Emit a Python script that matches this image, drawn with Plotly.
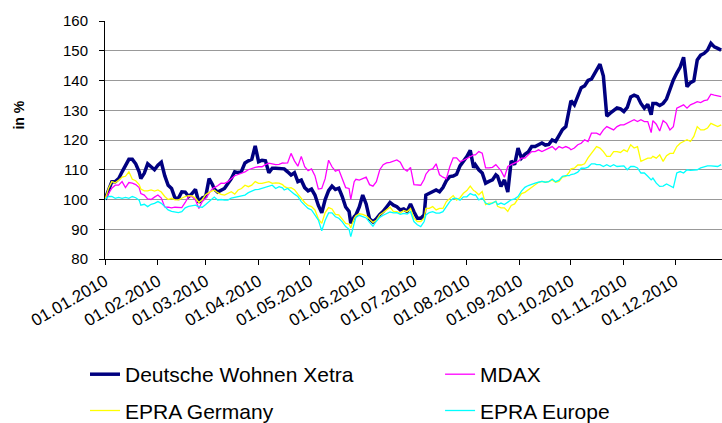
import pandas as pd
import plotly.graph_objects as go

# observation days, counted from 01.01.2010
days = [0, 2, 4, 6, 8, 10, 12, 14, 16, 18, 20, 21, 23, 25, 27, 29, 31, 33, 35, 37, 39, 41, 43, 45, 47, 49, 51, 53, 55, 57, 59, 61, 63, 64, 66, 68,
        70, 72, 74, 76, 78, 80, 82, 84, 86, 88, 90, 92, 94, 96, 98, 100, 102, 104, 105, 107, 109, 111, 113, 115, 117, 119, 121, 123, 125, 127, 129, 131, 133, 135, 137, 139, 141, 143,
        144, 146, 147, 149, 151, 153, 155, 157, 159, 161, 163, 165, 167, 169, 171, 173, 175, 177, 179, 181, 183, 185, 187, 188, 190, 192, 194, 196, 198, 200, 202, 204, 206, 208, 210, 212, 214, 216,
        217, 219, 221, 223, 225, 227, 229, 230, 232, 234, 236, 238, 240, 242, 244, 246, 248, 250, 252, 254, 256, 258, 260, 262, 264, 266, 268, 270, 272, 273, 275, 277, 279, 281, 283, 285, 287,
        288, 290, 292, 294, 296, 298, 300, 302, 304, 306, 308, 310, 312, 314, 316, 318, 320, 321, 323, 325, 327, 329, 331, 333, 335, 337, 339, 341, 343, 345, 347, 349, 351, 353, 355, 357, 359, 361]

deutsche_wohnen = [100, 103, 106, 106, 107, 109.3, 111.5, 113.5, 113.5, 112, 109.3, 107, 108.8, 112, 111, 110, 111.5, 112.5, 108, 104.8, 103.7, 100.5, 100.4, 102.6, 102.5, 101, 102, 103.4, 99, 100.5, 101, 107, 105, 103.5, 102.5, 103,
                   103.7, 105.4, 107, 109.3, 109, 109.5, 112.3, 113, 113.5, 118, 112.7, 113.2, 113, 109, 110.5, 110.5, 110.5, 110.5, 110.3, 109.3, 108.2, 109, 106, 106.5, 104, 102.9, 103.5, 101.5, 98, 95.5, 100, 103, 104.5, 103.4, 103.8, 101, 97.5, 96,
                   92, 94.2, 94.8, 97.5, 101.5, 98.5, 93.5, 92.5, 93.5, 95, 96, 97.5, 99, 98.1, 97.6, 96.5, 96.8, 96, 98.5, 95.9, 93.7, 93.7, 94.8, 101.5, 102, 102.7, 103.2, 102.6, 104, 106.3, 107.7, 107.9, 108.5, 111.3, 112.7, 114.4, 116.5, 110.7,
                   111.7, 110, 108.9, 105.5, 106.1, 106.6, 108.3, 107.8, 104.4, 106.6, 102.5, 113, 111.7, 117.3, 113.9, 115.2, 116, 117.8, 117.8, 118.4, 119, 118.3, 118.5, 120, 119.5, 121.5, 123.5, 124.5, 130.7, 133.2, 131.8, 134.5, 137.6, 138.2, 140, 140.5, 142.4,
                   143.5, 145.5, 141.5, 128, 129, 130.1, 130.8, 130.5, 129.6, 131, 134.5, 135.1, 134.6, 132.3, 130.7, 132, 128.5, 132.3, 132.3, 131.6, 132.3, 133.8, 137.4, 140.2, 142.5, 144.5, 147.8, 137.9, 139.3, 139.9, 146.9, 148.5, 149.1, 150.2, 152.5, 151.3, 150.8, 150.2]

mdax = [100, 102, 103.8, 104.8, 104.8, 106, 104, 105.7, 105.5, 105, 104, 102, 101.5, 100.2, 100, 100.8, 101.5, 100.5, 97.5, 97.4, 97.2, 97.4, 97.3, 97.3, 99, 101, 101, 99.8, 97, 99.3, 100.4, 102, 103.7, 104, 104.6, 105.5,
        105.4, 106, 107, 108, 108.4, 108.8, 109.3, 110, 110.5, 110.8, 111, 111, 111.7, 112.2, 112, 111.7, 111.8, 112.3, 112.2, 112.3, 115.5, 113, 111.2, 114.5, 111, 109.7, 110.3, 108, 103.5, 103.7, 107, 113.2, 111, 109.5, 110, 107, 104, 103.7,
        100, 106, 106.8, 106.5, 107, 107.5, 105, 104.5, 106, 110, 111.7, 112.3, 112.5, 113, 113.3, 112.5, 110.3, 109.5, 110.8, 105, 104.8, 104.8, 106.8, 108.5, 110, 110.3, 112, 108.3, 107.5, 107, 111, 114, 114, 112.7, 113.2, 113.8, 114.5, 115,
        115, 116.1, 115.6, 110.6, 110.6, 110.8, 111.7, 111, 109.7, 107.5, 111.1, 111.7, 112.2, 112.8, 113.9, 113.9, 115, 116.1, 116.1, 116.7, 116.1, 116.7, 117.3, 117.8, 116.7, 117.8, 117.3, 117.8, 117.3, 116.7, 117.3, 118.4, 118.9, 120.1, 119.5, 122.3, 122.3,
        122.3, 121.7, 123.4, 124.5, 124, 123.4, 124.5, 125.1, 125.1, 125.6, 126.2, 126.8, 126.2, 126.8, 126.2, 126.2, 122.5, 126.5, 125.3, 123, 126.5, 125.6, 123.4, 124.5, 130.7, 131.2, 131.8, 130.7, 131.8, 132.3, 132.9, 132.6, 133.2, 133.5, 135.4, 135.1, 134.8, 134.6]

epra_germany = [100, 103.7, 106, 105.6, 106.5, 107.5, 107.8, 109.3, 106.8, 106.3, 105, 103.5, 102.9, 102.9, 103.2, 102.8, 103.2, 102.5, 101, 100, 100.4, 99.9, 99.9, 100.5, 101, 101.3, 101.2, 100.5, 99, 100, 101.6, 102.4, 102.8, 103.2, 102.3, 101.7,
                101.5, 102, 102.6, 101.8, 103.2, 103.7, 104.8, 104.3, 104.8, 106, 105.4, 105.4, 105.6, 106, 105.4, 105.6, 105.5, 105, 104.4, 103.8, 104, 103.3, 101.8, 100.4, 99, 98, 97.6, 96.5, 93.5, 92, 95.6, 97.3, 96.8, 95, 94.8, 93.4, 92, 91.7,
                90.5, 93.7, 94.5, 95.2, 95, 94.5, 93.4, 92.3, 93, 94.8, 95.6, 96.5, 97.4, 95.9, 95.9, 95.4, 96.3, 95.9, 97, 93.7, 92.6, 92.6, 93.7, 97, 97, 97.6, 96.5, 97, 97, 99.3, 100.4, 101.3, 99.8, 100.6, 102.1, 103, 104.5, 103,
                102.7, 101.6, 102.7, 98.3, 98.8, 98.8, 99.4, 97.7, 97.2, 97.2, 96, 98, 98.5, 100.5, 102, 102.4, 103.3, 104.2, 105, 105.8, 106.1, 105.8, 106, 106.6, 105.8, 106.1, 107.5, 107.8, 109.2, 110.3, 110.5, 111.6, 111.6, 112, 114, 115.5, 116.7,
                117.8, 117.3, 116.1, 114.5, 114.5, 116.1, 116.1, 115.8, 116.7, 116.1, 118.4, 117.3, 117.8, 112.8, 113.4, 113.9, 113.9, 114.5, 113.9, 115, 112.8, 114.7, 115.5, 115.5, 117.8, 118.9, 119.5, 120.1, 119.5, 121.2, 124.5, 123.4, 123.4, 124, 125.6, 125.1, 124.5, 125.1]

epra_europe = [100, 101, 101, 100.4, 100.7, 100.4, 100.7, 100.4, 101, 100.6, 99.8, 98.1, 98.4, 97.6, 98.4, 98.7, 99.3, 98.7, 97.6, 96.5, 96, 95.7, 95.6, 95.9, 97.2, 97.7, 98, 98.1, 97.5, 97.4, 98.3, 99.3, 100.3, 100.8, 99.8, 100,
               99.8, 99.8, 100.5, 100.8, 101, 101.3, 101.5, 102.3, 102.9, 103.3, 103.4, 103.7, 104, 104.3, 104.8, 103.7, 104.3, 103.9, 103.2, 103.7, 102.6, 101.8, 101, 99.3, 98.1, 97, 96.5, 94.8, 93.1, 89.5, 93, 95.5, 95.5, 94.2, 93.7, 92.5, 90.9, 90,
               87.5, 92, 94, 94.7, 94.3, 93.8, 92.3, 91, 92.7, 94, 94.7, 95.3, 95.8, 95.5, 95.6, 95, 95.3, 95.1, 95.9, 92.6, 91.5, 90.9, 92.6, 94.8, 95.6, 95.9, 95.4, 95.4, 95.9, 97.6, 99.3, 100.4, 100.4, 99.8, 100.9, 100.9, 102, 101.5,
               101.6, 99.9, 100.5, 98.8, 98.3, 98.8, 99.4, 98.3, 98.8, 98.3, 99.2, 99.9, 100.2, 101, 102.8, 104.1, 104.7, 105.2, 105.5, 105.8, 106.1, 105.8, 106, 106.9, 106, 106.5, 107.8, 108, 108, 108.4, 108.6, 109.2, 110.5, 110.5, 110.9, 112, 112,
               111.7, 111.7, 111.1, 111.7, 111.1, 111.7, 111.1, 111.1, 111.3, 110, 111.1, 111.1, 110.6, 108.9, 108.9, 107.8, 106.6, 107.2, 105.5, 104.4, 104.5, 105.2, 104.7, 104, 108.9, 109.4, 108.9, 110, 109.8, 110, 110, 110.6, 110.9, 111.3, 111.3, 111.1, 111.1, 111.7]

dates = pd.Timestamp("2010-01-01") + pd.to_timedelta(days, unit="D")

# name, values, colour, width, legend column
series = [
    ("Deutsche Wohnen Xetra", deutsche_wohnen, "#000080", 3.5, "legend"),
    ("MDAX", mdax, "#FF00FF", 1.3, "legend2"),
    ("EPRA Germany", epra_germany, "#FFFF00", 1.3, "legend"),
    ("EPRA Europe", epra_europe, "#00FFFF", 1.3, "legend2"),
]

fig = go.Figure()
for name, vals, color, width, leg in series:
    fig.add_trace(go.Scatter(x=dates, y=vals, name=name, mode="lines",
                             line=dict(color=color, width=width),
                             legend=leg, legendgroup=name))

font = "Liberation Sans, Arial, sans-serif"
legend_style = dict(xref="container", yref="container", y=0.163,
                    xanchor="left", yanchor="top", tracegroupgap=6,
                    font=dict(size=21), bgcolor="rgba(0,0,0,0)")
fig.update_layout(
    width=722, height=423,
    margin=dict(l=105, r=0, t=21, b=164, autoexpand=False),
    paper_bgcolor="white", plot_bgcolor="white",
    font=dict(family=font, color="black"),
    legend=dict(x=0.1177, **legend_style),
    legend2=dict(x=0.6095, **legend_style),
    annotations=[dict(text="<b>in %</b>", textangle=-90, showarrow=False,
                      xref="paper", yref="paper", x=-0.1556, y=0.607,
                      font=dict(size=14))],
)
fig.update_xaxes(
    range=["2010-01-01", "2010-12-28 12:00"], automargin=False,
    dtick="M1", tick0="2010-01-01", tickformat="%d.%m.%Y", tickangle=-30,
    tickfont=dict(size=17), ticks="outside", ticklen=5, tickcolor="black",
    showline=True, linecolor="black", linewidth=1, showgrid=False, zeroline=False,
)
fig.update_yaxes(
    range=[80, 160], dtick=10, tickfont=dict(size=15), automargin=False,
    ticks="outside", ticklen=5, tickcolor="black", ticklabelstandoff=8,
    showline=True, linecolor="black", linewidth=1,
    showgrid=True, gridcolor="#999999", gridwidth=1, zeroline=False,
)
fig.write_html("out.html", config={"displayModeBar": False},
               post_script="document.body.style.margin='0';")
